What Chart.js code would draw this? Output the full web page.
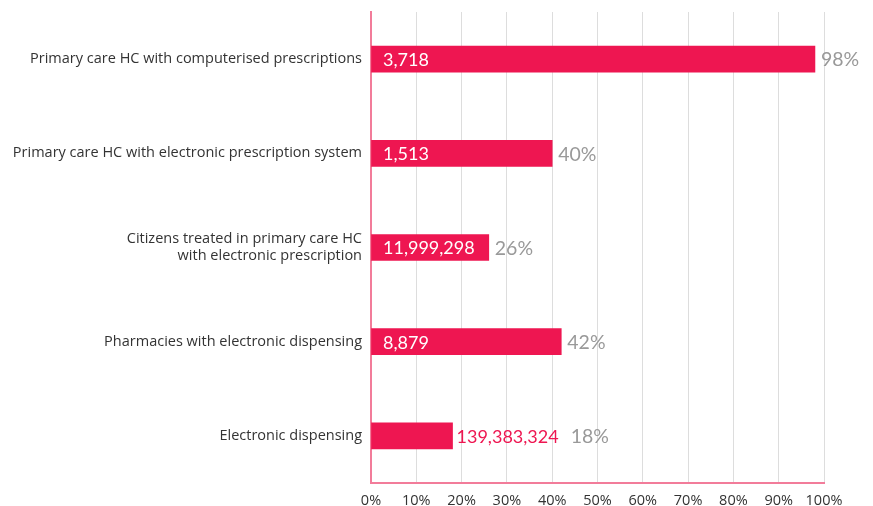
<!DOCTYPE html>
<html>
<head>
<meta charset="utf-8">
<script src="https://cdn.jsdelivr.net/npm/chart.js@4/dist/chart.umd.min.js"></script>
<style>
html,body{margin:0;padding:0;background:#fff;}
#wrap{width:873px;height:506px;position:relative;}
</style>
</head>
<body>
<div id="wrap"><canvas id="c" width="873" height="506"></canvas></div>
<script>
const categories = [
  'Primary care HC with computerised prescriptions',
  'Primary care HC with electronic prescription system',
  ['Citizens treated in primary care HC', 'with electronic prescription'],
  'Pharmacies with electronic dispensing',
  'Electronic dispensing'
];
const percentValues = [98, 40, 26, 42, 18];
const countLabels = ['3,718', '1,513', '11,999,298', '8,879', '139,383,324'];
const xTickValues = [0, 10, 20, 30, 40, 50, 60, 70, 80, 90, 100];

const BAR = '#EE1651';
const FONT = '"Open Sans", sans-serif';
const NUMFONT = 'Lato, "Open Sans", sans-serif';

const labelPlugin = {
  id: 'barLabels',
  afterDatasetsDraw(chart) {
    const ctx = chart.ctx;
    const meta = chart.getDatasetMeta(0);
    const base = chart.scales.x.getPixelForValue(0);
    ctx.save();
    ctx.textBaseline = 'middle';
    ctx.textAlign = 'left';
    meta.data.forEach((bar, i) => {
      const y = bar.y + 1;
      const txt = countLabels[i];
      ctx.font = '18px ' + NUMFONT;
      const w = ctx.measureText(txt).width;
      const barW = bar.x - base;
      let pctX;
      if (w + 14 <= barW) {
        ctx.fillStyle = '#ffffff';
        ctx.fillText(txt, base + 12, y);
        pctX = bar.x + 6;
      } else {
        ctx.fillStyle = BAR;
        ctx.fillText(txt, bar.x + 4, y);
        pctX = bar.x + 4 + w + 12;
      }
      ctx.fillStyle = '#999999';
      ctx.font = '19.5px ' + NUMFONT;
      ctx.fillText(percentValues[i] + '%', pctX, y);
    });
    ctx.restore();
  }
};

new Chart(document.getElementById('c'), {
  type: 'bar',
  data: {
    labels: categories,
    datasets: [{
      data: percentValues,
      backgroundColor: BAR,
      borderWidth: 0,
      barThickness: 26
    }]
  },
  options: {
    indexAxis: 'y',
    responsive: false,
    animation: false,
    layout: { padding: { top: 12, right: 49, left: 0, bottom: 0 } },
    plugins: { legend: { display: false }, tooltip: { enabled: false } },
    scales: {
      x: {
        min: 0, max: 100,
        afterBuildTicks(scale) { scale.ticks = xTickValues.map(v => ({ value: v })); },
        afterFit(scale) { scale.height = 23; scale.paddingLeft = 0; scale.paddingRight = 0; },
        grid: { color: '#dddddd', lineWidth: 1, drawTicks: false },
        border: { color: '#F27C9A', width: 2 },
        ticks: {
          padding: 9,
          color: '#333333',
          font: { family: FONT, size: 14.5 },
          callback: v => v + '%'
        }
      },
      y: {
        afterFit(scale) { scale.width = 371; scale.paddingTop = 0; scale.paddingBottom = 0; },
        grid: { display: false, drawTicks: false },
        border: { color: '#F27C9A', width: 2 },
        ticks: {
          padding: 9,
          color: '#333333',
          font: { family: FONT, size: 14.5 },
          lineHeight: 1.35
        }
      }
    }
  },
  plugins: [labelPlugin]
});
</script>
</body>
</html>
